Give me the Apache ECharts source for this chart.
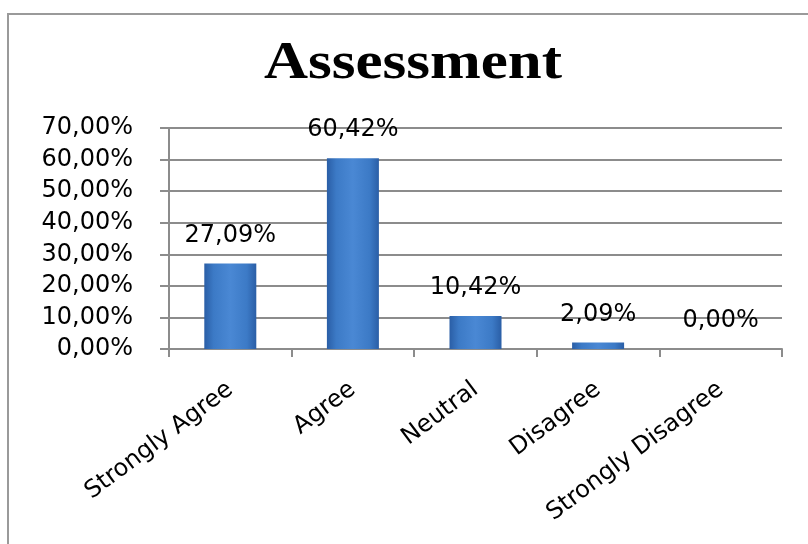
<!DOCTYPE html>
<html>
<head>
<meta charset="utf-8">
<script src="https://cdn.jsdelivr.net/npm/echarts@6/dist/echarts.min.js"></script>
<style>
  html, body { margin: 0; padding: 0; background: #ffffff; }
  #chart { width: 808px; height: 544px; }
</style>
</head>
<body>
<div id="chart"></div>
<script>
// Survey responses for the assessment question
const categories = ['Strongly Agree', 'Agree', 'Neutral', 'Disagree', 'Strongly Disagree'];
const shares = [27.09, 60.42, 10.42, 2.09, 0.00];
const yTicks = { min: 0, max: 70, interval: 10 };

const pct = v => Number(v).toFixed(2).replace('.', ',') + '%';
const textFont = '"DejaVu Sans", Verdana, sans-serif';

const barFill = new echarts.graphic.LinearGradient(0, 0, 1, 0, [
  { offset: 0, color: '#2a5ea6' },
  { offset: 0.18, color: '#3c7ac6' },
  { offset: 0.5, color: '#4a88d4' },
  { offset: 0.82, color: '#3c7ac6' },
  { offset: 1, color: '#2a5ea6' }
]);

const chart = echarts.init(document.getElementById('chart'), null, { renderer: 'canvas' });
chart.setOption({
  backgroundColor: '#ffffff',
  animation: false,
  graphic: [
    {
      type: 'rect',
      shape: { x: 8, y: 14, width: 830, height: 560 },
      style: { fill: 'none', stroke: '#9a9a9a', lineWidth: 2 },
      silent: true
    },
    {
      type: 'text',
      x: 413,
      y: 64,
      scaleX: 1.15,
      style: {
        text: 'Assessment',
        font: 'bold 53px "Liberation Serif", "Times New Roman", serif',
        fill: '#000000',
        textAlign: 'center',
        textVerticalAlign: 'middle'
      },
      silent: true
    }
  ],
  grid: { left: 169, right: 26, top: 128, bottom: 195, containLabel: false },
  xAxis: {
    type: 'category',
    data: categories,
    axisLine: { lineStyle: { color: '#8c8c8c', width: 2 } },
    axisTick: { show: true, length: 8, interval: 0, lineStyle: { color: '#8c8c8c', width: 2 } },
    axisLabel: {
      interval: 0,
      rotate: 37,
      margin: 38,
      fontFamily: textFont,
      fontSize: 24,
      color: '#000000'
    }
  },
  yAxis: {
    type: 'value',
    min: yTicks.min,
    max: yTicks.max,
    interval: yTicks.interval,
    axisLine: { show: true, lineStyle: { color: '#8c8c8c', width: 2 } },
    axisTick: { show: true, length: 9, lineStyle: { color: '#8c8c8c', width: 2 } },
    splitLine: { show: true, lineStyle: { color: '#8c8c8c', width: 2 } },
    axisLabel: {
      margin: 36,
      fontFamily: textFont,
      fontSize: 24,
      color: '#000000',
      formatter: v => pct(v)
    }
  },
  series: [{
    type: 'bar',
    data: shares,
    barWidth: 52,
    itemStyle: { color: barFill },
    label: {
      show: true,
      position: 'top',
      distance: 16,
      fontFamily: textFont,
      fontSize: 24,
      color: '#000000',
      formatter: p => pct(p.value)
    }
  }]
});
</script>
</body>
</html>
